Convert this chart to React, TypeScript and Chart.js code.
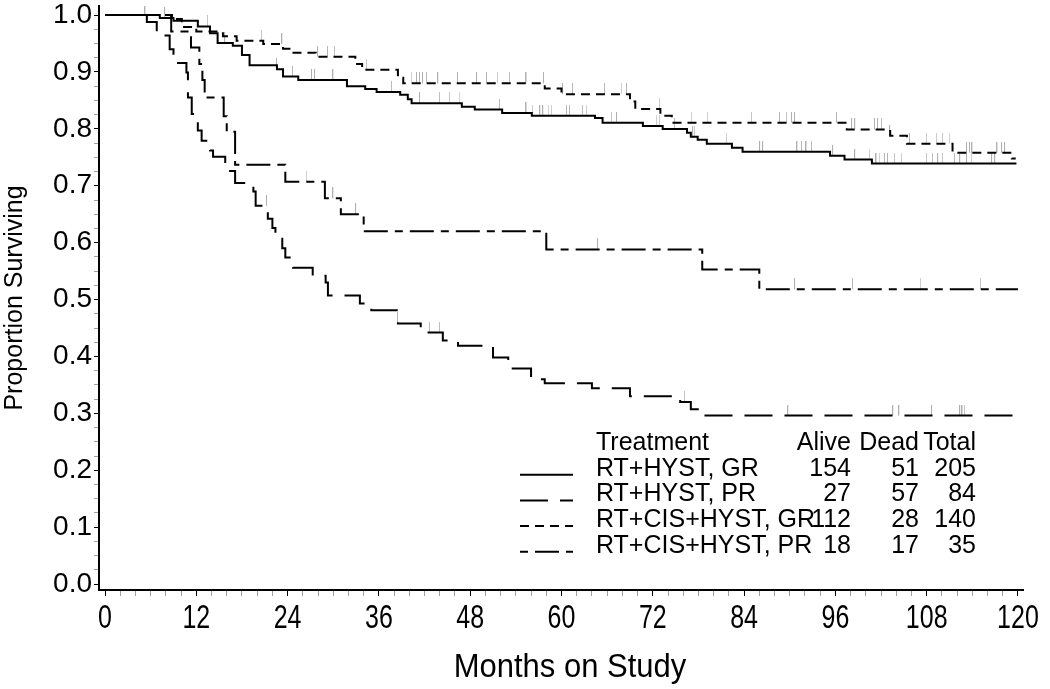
import { useEffect, useRef } from 'react';
import { Chart, registerables } from 'chart.js';

Chart.register(...registerables);

// ---------- DATA ----------
const groupNames = ['RT+HYST, GR', 'RT+HYST, PR', 'RT+CIS+HYST, GR', 'RT+CIS+HYST, PR'];
const aliveCounts = [154, 27, 112, 18];
const deadCounts = [51, 57, 28, 17];
const totalCounts = [205, 84, 140, 35];

const xTickValues = [0, 12, 24, 36, 48, 60, 72, 84, 96, 108, 120];
const yTickValues = [0.0, 0.1, 0.2, 0.3, 0.4, 0.5, 0.6, 0.7, 0.8, 0.9, 1.0];
const xTitle = 'Months on Study';
const yTitle = 'Proportion Surviving';

// RT+HYST, GR  (solid)
const timesA = [0, 7.2, 9.0, 12.2, 13.8, 14.8, 16.8, 18.0, 19.0, 22.6, 23.4, 25.4, 31.8, 34.2, 35.7, 38.8, 39.8, 40.3, 46.9, 48.6, 52.2, 56.1, 64.4, 65.4, 70.7, 73.3, 76.5, 77.0, 77.9, 79.1, 82.4, 83.8, 95.3, 97.2, 100.8, 119.8];
const survA = [1.0, 0.995, 0.99, 0.98, 0.968, 0.951, 0.946, 0.93, 0.912, 0.905, 0.892, 0.886, 0.875, 0.87, 0.865, 0.86, 0.852, 0.845, 0.839, 0.834, 0.828, 0.823, 0.819, 0.811, 0.805, 0.8, 0.793, 0.786, 0.781, 0.774, 0.767, 0.76, 0.753, 0.746, 0.739, 0.739];
const censorA = [5.3, 7.9, 13.5, 15.8, 22.6, 24.7, 27.2, 27.6, 30, 37.7, 41.4, 44, 45.3, 46.6, 51.9, 55.4, 56.2, 57.2, 57.6, 58.3, 58.7, 60.7, 61.1, 62.8, 63.3, 66.6, 67.3, 72.5, 72.9, 74.9, 77.3, 77.5, 81.7, 86.1, 86.5, 91, 91.6, 92.2, 92.9, 95.7, 98.6, 100.5, 101.4, 101.8, 102.5, 102.9, 103.8, 104.7, 108, 108.8, 109.5, 110.1, 111.7, 112.4, 113.3, 113.9, 116.6, 117];

// RT+HYST, PR  (long dash)
const timesB = [0, 5.5, 6.8, 8.5, 9.0, 9.6, 10.7, 10.9, 11.4, 11.8, 12.2, 12.7, 13.8, 14.2, 15.8, 16.3, 17.1, 19.5, 19.8, 21.4, 22.0, 22.4, 23.3, 23.7, 24.7, 27.3, 29.0, 29.3, 33.5, 35.0, 38.5, 41.5, 44.4, 46.4, 51.0, 53.0, 56.0, 57.8, 64.0, 69.0, 75.6, 77.0, 78.5, 120];
const survB = [1.0, 0.988, 0.964, 0.94, 0.928, 0.916, 0.899, 0.855, 0.826, 0.814, 0.797, 0.779, 0.762, 0.751, 0.738, 0.726, 0.705, 0.69, 0.665, 0.642, 0.626, 0.607, 0.59, 0.574, 0.556, 0.542, 0.53, 0.507, 0.493, 0.481, 0.458, 0.442, 0.428, 0.419, 0.398, 0.379, 0.36, 0.353, 0.344, 0.33, 0.32, 0.307, 0.296, 0.296];
const censorB = [21.3, 38.5, 42.7, 44, 76.2, 89.8, 103.6, 104.4, 108.7, 112.4, 112.7, 113];

// RT+CIS+HYST, GR  (short dash)
const timesC = [0, 8.8, 10.1, 12.0, 15.5, 17.3, 20.8, 23.4, 24.6, 27.7, 32.9, 33.8, 38.5, 39.2, 57.8, 60.0, 69.0, 69.7, 73.0, 74.5, 97.5, 103.2, 105.4, 111.4, 119.2, 119.7];
const survC = [1.0, 0.993, 0.979, 0.971, 0.963, 0.955, 0.949, 0.941, 0.934, 0.927, 0.914, 0.904, 0.89, 0.88, 0.871, 0.861, 0.848, 0.835, 0.823, 0.811, 0.799, 0.788, 0.774, 0.758, 0.748, 0.748];
const censorC = [20.6, 23.3, 28, 29.3, 30.2, 34.4, 40.3, 41, 41.4, 41.8, 42.3, 43.8, 46.4, 48.9, 50.2, 51.6, 53.2, 55.4, 57.7, 60.2, 61.5, 65.7, 67.9, 68.6, 72.9, 77.1, 79.2, 85, 88.7, 89.6, 90.3, 90.7, 96.2, 98.2, 98.6, 101.2, 101.6, 102.1, 103.2, 105.8, 108, 109.3, 110.1, 111, 113.3, 113.7, 114, 117.3, 117.9, 118.3];

// RT+CIS+HYST, PR  (dash-dot)
const timesD = [0, 8.7, 11.3, 12.4, 12.8, 13.1, 15.6, 16.0, 17.1, 23.7, 28.9, 31.0, 34.0, 58.0, 78.5, 86.0, 120];
const survD = [1.0, 0.971, 0.943, 0.914, 0.886, 0.855, 0.822, 0.795, 0.737, 0.707, 0.678, 0.65, 0.62, 0.588, 0.553, 0.518, 0.518];
const censorD = [26.5, 30, 33, 64.8, 90.7, 98.3, 107.2, 115.1];

// ---------- STYLE ----------
const dashes = [[], [28, 12], [9, 6], [8, 7, 24, 7]];
const FONT = '"Liberation Sans", Arial, Helvetica, sans-serif';

function survAt(times: number[], surv: number[], t: number) {
  let s = surv[0];
  for (let i = 0; i < times.length; i++) if (times[i] <= t) s = surv[i];
  return s;
}

const curveSets = [
  { times: timesA, surv: survA, censor: censorA },
  { times: timesB, surv: survB, censor: censorB },
  { times: timesC, surv: survC, censor: censorC },
  { times: timesD, surv: survD, censor: censorD },
];

// x-axis labels and title are drawn slightly condensed (tall/narrow) like the original
const xLabelPlugin = {
  id: 'xLabels',
  afterDraw(chart: any) {
    const ctx = chart.ctx as CanvasRenderingContext2D;
    const xs = chart.scales.x;
    ctx.save();
    ctx.fillStyle = '#000';
    ctx.textAlign = 'center';
    ctx.textBaseline = 'alphabetic';
    ctx.font = `25px ${FONT}`;
    xTickValues.forEach((v) => {
      ctx.save();
      ctx.translate(xs.getPixelForValue(v), 628);
      ctx.scale(1, 1.3);
      ctx.fillText(String(v), 0, 0);
      ctx.restore();
    });
    ctx.font = `31px ${FONT}`;
    ctx.save();
    ctx.translate(570, 677);
    ctx.scale(1, 1.1);
    ctx.fillText(xTitle, 0, 0);
    ctx.restore();
    ctx.restore();
  },
};

const legendPlugin = {
  id: 'kmLegend',
  afterDraw(chart: any) {
    const ctx = chart.ctx as CanvasRenderingContext2D;
    ctx.save();
    ctx.fillStyle = '#000';
    ctx.font = `25px ${FONT}`;
    ctx.textBaseline = 'alphabetic';
    const textX = 596;
    const aliveR = 851;
    const deadR = 919;
    const totalR = 976;
    const headerY = 450;
    const rowGap = 25.7;
    ctx.textAlign = 'left';
    ctx.fillText('Treatment', textX, headerY);
    ctx.textAlign = 'right';
    ctx.fillText('Alive', aliveR, headerY);
    ctx.fillText('Dead', deadR, headerY);
    ctx.fillText('Total', totalR, headerY);
    groupNames.forEach((name, i) => {
      const y = headerY + rowGap * (i + 1);
      ctx.textAlign = 'left';
      ctx.fillText(name, textX, y);
      ctx.textAlign = 'right';
      ctx.fillText(String(aliveCounts[i]), aliveR, y);
      ctx.fillText(String(deadCounts[i]), deadR, y);
      ctx.fillText(String(totalCounts[i]), totalR, y);
      ctx.beginPath();
      ctx.setLineDash(dashes[i]);
      ctx.lineWidth = 2;
      ctx.strokeStyle = '#000';
      ctx.moveTo(520, y - 1);
      ctx.lineTo(573, y - 1);
      ctx.stroke();
    });
    ctx.restore();
  },
};

export default function App() {
  const ref = useRef<HTMLCanvasElement | null>(null);
  useEffect(() => {
    const canvas = ref.current;
    if (!canvas) return;
    const tick = document.createElement('canvas');
    tick.width = 2;
    tick.height = 22;
    const tctx = tick.getContext('2d')!;
    tctx.fillStyle = '#b0b0b0';
    tctx.fillRect(0, 0, 1, 11);

    const datasets: any[] = [];
    curveSets.forEach((c, i) => {
      datasets.push({
        type: 'scatter',
        label: groupNames[i] + ' censored',
        data: c.censor.map((t) => ({ x: t, y: survAt(c.times, c.surv, t) })),
        pointStyle: tick,
        pointRadius: 5,
        showLine: false,
        order: 2,
      });
    });
    curveSets.forEach((c, i) => {
      datasets.push({
        type: 'line',
        label: groupNames[i],
        data: c.times.map((t, k) => ({ x: t, y: c.surv[k] })),
        stepped: true,
        borderColor: '#000',
        borderWidth: 2,
        borderDash: dashes[i],
        borderCapStyle: 'butt',
        pointRadius: 0,
        fill: false,
        order: 1,
      });
    });

    const isMajorX = (v: number) => xTickValues.some((x) => Math.abs(x - v) < 1e-6);
    const isMajorY = (v: number) => yTickValues.some((y) => Math.abs(y - v) < 1e-6);

    const chart = new Chart(canvas, {
      type: 'line',
      data: { datasets },
      options: {
        animation: false,
        responsive: false,
        devicePixelRatio: 1,
        layout: { padding: { top: 5, right: 27, left: 0, bottom: 0 } },
        plugins: { legend: { display: false }, tooltip: { enabled: false } },
        scales: {
          x: {
            type: 'linear',
            min: -0.79,
            max: 120.66,
            afterFit: (s: any) => {
              s.height = 99;
              s.paddingLeft = 0;
              s.paddingRight = 0;
            },
            ticks: {
              stepSize: 2,
              includeBounds: false,
              autoSkip: false,
              maxRotation: 0,
              minRotation: 0,
              callback: () => '',
            },
            grid: {
              drawOnChartArea: false,
              tickLength: 6,
              tickColor: (ctx: any) => (ctx.tick && isMajorX(ctx.tick.value) ? '#000' : '#a0a0a0'),
              tickWidth: 1,
            },
            border: { display: true, color: '#000', width: 2 },
          },
          y: {
            type: 'linear',
            min: -0.0105,
            max: 1.016,
            afterFit: (s: any) => {
              s.width = 99;
              s.paddingTop = 0;
              s.paddingBottom = 0;
            },
            ticks: {
              stepSize: 0.025,
              includeBounds: false,
              autoSkip: false,
              padding: 2,
              color: '#000',
              font: { family: FONT, size: 28 },
              callback: (v: any) => (isMajorY(Number(v)) ? Number(v).toFixed(1) : ''),
            },
            grid: {
              drawOnChartArea: false,
              tickLength: 5,
              tickColor: (ctx: any) => (ctx.tick && isMajorY(ctx.tick.value) ? '#000' : '#a0a0a0'),
              tickWidth: 1,
            },
            border: { display: true, color: '#000', width: 2 },
            title: {
              display: true,
              text: yTitle,
              color: '#000',
              font: { family: FONT, size: 25 },
              padding: { top: 0, bottom: 0 },
            },
          },
        },
      } as any,
      plugins: [xLabelPlugin, legendPlugin],
    });
    return () => chart.destroy();
  }, []);

  return (
    <div style={{ position: 'absolute', left: 0, top: 0, width: 1050, height: 689, background: '#fff' }}>
      <canvas ref={ref} width={1050} height={689} style={{ width: 1050, height: 689, display: 'block' }} />
    </div>
  );
}
